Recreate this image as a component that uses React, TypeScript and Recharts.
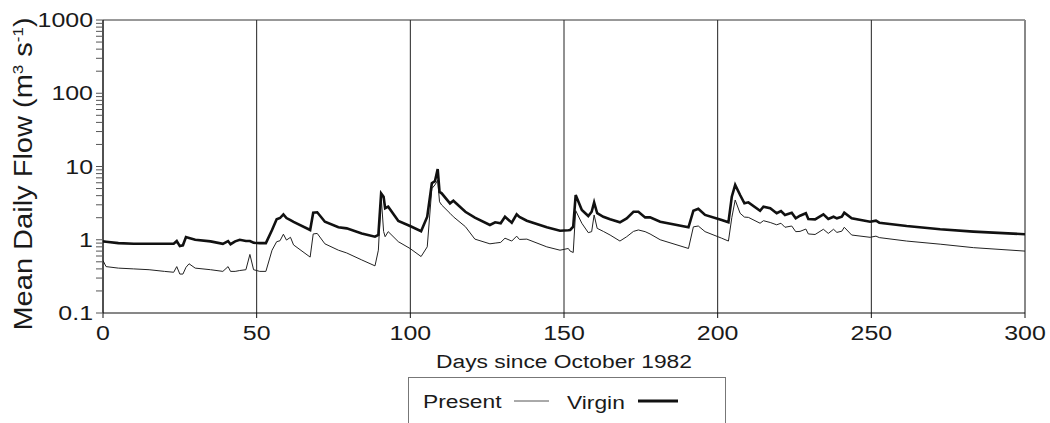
import { LineChart, Line, XAxis, YAxis, CartesianGrid, Legend, ReferenceLine, Label } from "recharts";

const days = [
    0, 1, 5, 10, 15, 20, 23, 24, 25, 26, 27, 28, 30, 35, 39, 40.7, 41.5, 43, 44.5, 46.5,
    47.8, 49, 51, 53, 55, 56.5, 57.6, 58.7, 59.7, 61, 62, 67.4, 68.4, 69.7, 72.2, 76.6, 79.3, 84.2, 88.5, 89.6,
    90.5, 91.3, 91.8, 92.8, 96.1, 99.9, 103.5, 105.5, 107, 108, 108.9, 109.5, 110.2, 112.9, 114, 117.9, 121, 125.9, 127.6, 129.4,
    130.8, 133, 134.6, 135.5, 137.9, 144.4, 148.7, 151.4, 152, 153, 153.8, 155.8, 157.9, 159, 159.8, 160.8, 162.8, 165, 168.2, 170.4,
    172.6, 174.2, 176.4, 178, 181.3, 190.5, 192.1, 193.7, 195.9, 201.3, 203.5, 204.6, 205.7, 207.3, 208.7, 210, 213.8, 214.9, 217.1, 219.2,
    220.6, 221.9, 224.1, 225.4, 226.8, 228.7, 229.5, 231.7, 234.4, 236, 237.7, 238.8, 240.4, 241.2, 243.6, 249.6, 251.5, 252.6, 261.5, 272.4,
    283.2, 300,
];

const present = [
    0.52, 0.43, 0.41, 0.4, 0.39, 0.37, 0.36, 0.43, 0.34, 0.34, 0.42, 0.47, 0.41, 0.39, 0.37, 0.43, 0.37, 0.37, 0.38, 0.39,
    0.63, 0.39, 0.37, 0.37, 0.72, 0.94, 0.97, 1.19, 0.99, 1.08, 0.85, 0.58, 1.2, 1.22, 0.88, 0.72, 0.66, 0.53, 0.44, 0.72,
    3.9, 1.3, 1.1, 1.29, 0.94, 0.76, 0.59, 0.8, 5.0, 5.6, 6.5, 3.3, 2.98, 2.3, 2.06, 1.51, 1.02, 0.88, 0.9, 0.92,
    1.05, 0.96, 1.12, 1.01, 1.02, 0.8, 0.72, 0.76, 0.7, 0.67, 2.5, 1.68, 1.25, 1.29, 2.18, 1.43, 1.3, 1.16, 0.96, 1.1,
    1.3, 1.36, 1.29, 1.2, 1.0, 0.76, 1.5, 1.54, 1.29, 1.05, 0.96, 2.0, 3.49, 2.3, 2.04, 2.02, 1.68, 1.82, 1.72, 1.6,
    1.68, 1.48, 1.54, 1.29, 1.3, 1.4, 1.2, 1.18, 1.39, 1.22, 1.39, 1.26, 1.31, 1.48, 1.16, 1.08, 1.12, 1.07, 0.96, 0.87,
    0.78, 0.7,
];

const virgin = [
    0.95, 0.94, 0.9, 0.88, 0.88, 0.88, 0.88, 0.96, 0.82, 0.84, 1.09, 1.06, 1.0, 0.95, 0.88, 0.96, 0.87, 0.95, 1.0, 0.96,
    0.96, 0.91, 0.9, 0.9, 1.36, 1.9, 1.98, 2.22, 1.98, 1.85, 1.75, 1.36, 2.34, 2.37, 1.76, 1.48, 1.43, 1.22, 1.1, 1.16,
    4.3, 3.87, 2.69, 2.83, 1.8, 1.54, 1.31, 2.06, 5.9, 6.3, 9.2, 4.5, 4.3, 3.14, 3.41, 2.41, 2.0, 1.59, 1.73, 1.68,
    2.06, 1.71, 2.22, 2.05, 1.82, 1.48, 1.33, 1.35, 1.36, 1.51, 4.08, 2.55, 2.11, 2.41, 3.24, 2.3, 2.06, 1.9, 1.73, 1.96,
    2.41, 2.41, 2.02, 2.02, 1.76, 1.48, 2.49, 2.65, 2.18, 1.86, 1.73, 3.87, 5.6, 4.08, 3.14, 3.24, 2.49, 2.83, 2.69, 2.3,
    2.47, 2.18, 2.34, 1.96, 2.13, 2.3, 1.92, 1.9, 2.22, 1.92, 2.06, 1.96, 2.06, 2.34, 1.96, 1.76, 1.82, 1.71, 1.54, 1.39,
    1.29, 1.19,
];

const xTicks = [0, 50, 100, 150, 200, 250, 300];
const yMajor = [0.1, 1, 10, 100, 1000];
const yTicks = [
    0.1, 0.2, 0.3, 0.4, 0.5, 0.6, 0.7, 0.8, 0.9,
    1, 2, 3, 4, 5, 6, 7, 8, 9,
    10, 20, 30, 40, 50, 60, 70, 80, 90,
    100, 200, 300, 400, 500, 600, 700, 800, 900,
    1000,
];

const data = days.map((d, i) => ({ day: d, present: present[i], virgin: virgin[i] }));

const FONT = "'Liberation Sans', Arial, sans-serif";
const STRETCH = 1.2;
const TICK_STRETCH = 1.28;

function YTick({ x, y, payload }: any) {
    if (!yMajor.includes(payload.value)) return null;
    return (
        <g transform={`translate(${x},${y}) scale(${TICK_STRETCH},1)`}>
            <text x={0} y={0} dy="0.36em" textAnchor="end" fontSize={19.5} fontFamily={FONT} fill="#1a1a1a">
                {payload.value}
            </text>
        </g>
    );
}

function XTick({ x, y, payload }: any) {
    return (
        <g transform={`translate(${x},${y}) scale(${TICK_STRETCH},1)`}>
            <text x={0} y={0} dy="0.78em" textAnchor="middle" fontSize={19.5} fontFamily={FONT} fill="#1a1a1a">
                {payload.value}
            </text>
        </g>
    );
}

function YTitle() {
    return (
        <g transform="translate(32,174) rotate(-90) scale(1.21,1.05)">
            <text x={0} y={0} textAnchor="middle" fontSize={24} fontFamily={FONT} fill="#1a1a1a">
                Mean Daily Flow (m
                <tspan fontSize={14} dy={-9}>3</tspan>
                <tspan dy={9}> s</tspan>
                <tspan fontSize={14} dy={-9}>-1</tspan>
                <tspan dy={9}>)</tspan>
            </text>
        </g>
    );
}

function XTitle() {
    return (
        <g transform={`translate(564,361) scale(${STRETCH},1)`}>
            <text x={0} y={0} dy="0.36em" textAnchor="middle" fontSize={19} fontFamily={FONT} fill="#1a1a1a">
                Days since October 1982
            </text>
        </g>
    );
}

function LegendBox() {
    return (
        <div
            style={{
                width: 318,
                height: 60,
                border: "1px solid #777",
                boxSizing: "border-box",
                position: "relative",
            }}
        >
            <svg width={318} height={60} style={{ position: "absolute", left: 0, top: 0 }}>
                <g transform={`translate(14,23) scale(${STRETCH},1)`}>
                    <text x={0} y={0} dy="0.36em" fontSize={19} fontFamily={FONT} fill="#1a1a1a">Present</text>
                </g>
                <line x1={105} x2={140} y1={23} y2={23} stroke="#555" strokeWidth={1} />
                <g transform={`translate(158,24) scale(${STRETCH},1)`}>
                    <text x={0} y={0} dy="0.36em" fontSize={19} fontFamily={FONT} fill="#1a1a1a">Virgin</text>
                </g>
                <line x1={229} x2={269} y1={23} y2={23} stroke="#111" strokeWidth={3} />
            </svg>
        </div>
    );
}

export default function App() {
    return (
        <div style={{ position: "absolute", left: 0, top: 0, width: 1050, height: 423, background: "#fff" }}>
            <LineChart width={1050} height={423} data={data} margin={{ top: 20, right: 25, bottom: 70, left: 0 }}>
                <CartesianGrid horizontal={false} stroke="#222" strokeWidth={1} />
                <XAxis
                    dataKey="day"
                    type="number"
                    domain={[0, 300]}
                    ticks={xTicks}
                    height={40}
                    tickSize={5}
                    tickMargin={7}
                    tick={<XTick />}
                    stroke="#111"
                    tickLine={{ stroke: "#111" }}
                    allowDataOverflow
                />
                <YAxis
                    scale="log"
                    domain={[0.1, 1000]}
                    ticks={yTicks}
                    width={103}
                    tickSize={7}
                    tickMargin={3}
                    tick={<YTick />}
                    stroke="#111"
                    tickLine={{ stroke: "#555" }}
                    interval={0}
                    allowDataOverflow
                >
                    <Label content={<YTitle />} />
                </YAxis>
                <ReferenceLine y={1000} stroke="#333" strokeWidth={1} />
                <ReferenceLine x={300} stroke="#888" strokeWidth={2} />
                <Line
                    type="linear"
                    dataKey="present"
                    stroke="#222"
                    strokeWidth={1}
                    dot={false}
                    isAnimationActive={false}
                />
                <Line
                    type="linear"
                    dataKey="virgin"
                    stroke="#111"
                    strokeWidth={2.6}
                    dot={false}
                    isAnimationActive={false}
                />
                <Legend
                    layout="horizontal"
                    verticalAlign="middle"
                    align="center"
                    wrapperStyle={{ position: "absolute", left: 408, top: 377, width: 318, height: 60 }}
                    content={() => <LegendBox />}
                />
            </LineChart>
            <svg width={1050} height={423} style={{ position: "absolute", left: 0, top: 0, pointerEvents: "none" }}>
                <XTitle />
            </svg>
        </div>
    );
}
